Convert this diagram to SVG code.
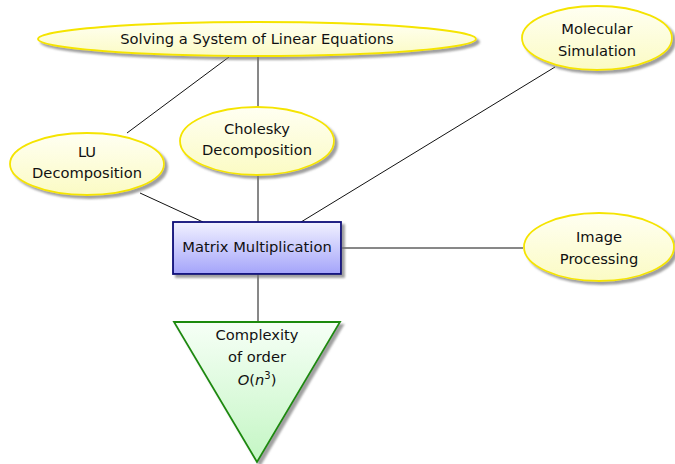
<svg xmlns="http://www.w3.org/2000/svg" width="675" height="464" viewBox="0 0 675 464">
<defs>
<linearGradient id="gy" x1="0" y1="0" x2="0" y2="1"><stop offset="0" stop-color="#fffff2"/><stop offset="1" stop-color="#fbfbc4"/></linearGradient>
<linearGradient id="gb" x1="0" y1="0" x2="0" y2="1"><stop offset="0" stop-color="#f2f2ff"/><stop offset="1" stop-color="#a4a4fa"/></linearGradient>
<linearGradient id="gg" x1="0" y1="0" x2="0" y2="1"><stop offset="0" stop-color="#f6fff6"/><stop offset="1" stop-color="#c4f6c4"/></linearGradient>
<filter id="sh" x="-10%" y="-10%" width="125%" height="130%"><feDropShadow dx="3" dy="3" stdDeviation="1.2" flood-color="#777" flood-opacity="0.7"/></filter>
</defs>
<style>
.ell{fill:url(#gy);stroke:#f5e400;stroke-width:1.8;filter:url(#sh)}
.box{fill:url(#gb);stroke:#0a0a78;stroke-width:1.8;filter:url(#sh)}
.tri{fill:url(#gg);stroke:#1f8a10;stroke-width:1.8;filter:url(#sh)}
.con line{stroke:#111;stroke-width:1}
text{font-family:"DejaVu Sans","Liberation Sans",sans-serif;font-size:14.7px;fill:#111;text-anchor:middle}
</style>
<g class="con">
<line x1="229" y1="57" x2="127" y2="133"/>
<line x1="258" y1="57" x2="258" y2="107"/>
<line x1="258" y1="175" x2="258" y2="222"/>
<line x1="140" y1="193" x2="203" y2="222"/>
<line x1="555" y1="67" x2="301" y2="222"/>
<line x1="341" y1="248" x2="523" y2="248"/>
<line x1="258" y1="274" x2="258" y2="322"/>
</g>
<g id="solving"><ellipse class="ell" cx="257" cy="39" rx="219" ry="17"/><text x="257" y="44">Solving a System of Linear Equations</text></g>
<g id="cholesky"><ellipse class="ell" cx="257" cy="141" rx="77" ry="34"/><text x="257" y="134">Cholesky</text><text x="257" y="155">Decomposition</text></g>
<g id="lu"><ellipse class="ell" cx="87" cy="164" rx="77" ry="31"/><text x="87" y="157">LU</text><text x="87" y="178">Decomposition</text></g>
<g id="molecular"><ellipse class="ell" cx="597" cy="38" rx="75" ry="32"/><text x="597" y="34">Molecular</text><text x="597" y="56">Simulation</text></g>
<g id="image"><ellipse class="ell" cx="599" cy="247" rx="75" ry="34"/><text x="599" y="242">Image</text><text x="599" y="264">Processing</text></g>
<g id="matrix"><rect class="box" x="173" y="222" width="168" height="52"/><text x="257" y="252">Matrix Multiplication</text></g>
<g id="complexity"><polygon class="tri" points="174,322 340,322 257,462"/><text x="257" y="340">Complexity</text><text x="257" y="362">of order</text><text x="257" y="385"><tspan font-style="italic">O</tspan>(<tspan font-style="italic">n</tspan><tspan font-size="10px" dy="-6">3</tspan><tspan dy="6">)</tspan></text></g>
</svg>
